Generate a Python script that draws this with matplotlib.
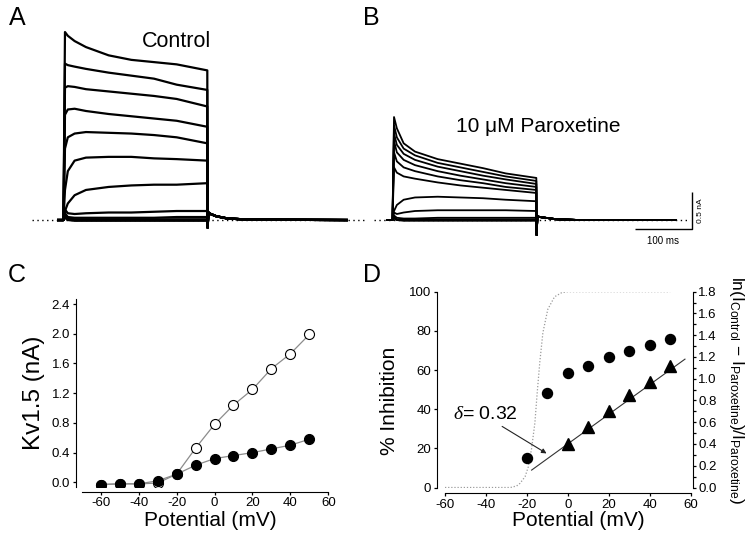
import matplotlib
matplotlib.use('Agg')
import matplotlib.pyplot as plt
from matplotlib.ticker import MultipleLocator, FormatStrFormatter

plt.rcParams['font.family'] = ['Liberation Sans', 'DejaVu Sans']
plt.rcParams['mathtext.fontset'] = 'custom'
plt.rcParams['mathtext.rm'] = 'Liberation Sans'
plt.rcParams['mathtext.it'] = 'Liberation Serif:italic'
plt.rcParams['mathtext.bf'] = 'Liberation Sans:bold'
plt.rcParams['axes.unicode_minus'] = False

# ---------------- data ----------------
voltages = [-60, -50, -40, -30, -20, -10, 0, 10, 20, 30, 40, 50]
control_iv = [-0.03, -0.02, -0.02, -0.01, 0.11, 0.46, 0.78, 1.04, 1.25, 1.53, 1.73, 1.99]
parox_iv = [-0.03, -0.02, -0.02, 0.02, 0.11, 0.23, 0.32, 0.36, 0.40, 0.45, 0.50, 0.58]

inh_v = [-20, -10, 0, 10, 20, 30, 40, 50]
inh_pct = [15.1, 48.4, 58.5, 62.3, 66.4, 69.8, 72.6, 75.8]
ln_v = [0, 10, 20, 30, 40, 50]
ln_ratio = [0.40, 0.56, 0.70, 0.85, 0.97, 1.12]
fit_v = [-17.7, 57.2]
fit_ln = [0.16, 1.18]
curve_v = [-60, -28, -25, -23.4, -20.9, -19.3, -17.7, -16.1, -15.0, -13.7, -12.2, -9.8, -6.5, -3, 0, 50]
curve_pct = [0, 0, 0.8, 2.1, 5.5, 10.6, 20, 33, 48, 64, 79, 91, 97.4, 99.5, 100, 100]

# current traces (nA) sampled at step_t (ms), rows follow `voltages`
pre_t = [-9, 0]
step_t = [0.3, 3, 8, 20, 40, 80, 120, 160, 200, 254]
tail_t = [254.5, 256, 260, 270, 290, 330, 500]
control_traces = [
    [0, 0.03, 0.00, -0.01, -0.01, -0.01, -0.01, -0.01, -0.01, -0.01],
    [0, 0.04, 0.01, 0.00, 0.00, 0.00, 0.00, 0.00, 0.00, 0.00],
    [0, 0.06, 0.02, 0.01, 0.01, 0.01, 0.01, 0.01, 0.01, 0.01],
    [0, 0.09, 0.04, 0.03, 0.03, 0.03, 0.03, 0.03, 0.04, 0.04],
    [0, 0.14, 0.09, 0.08, 0.09, 0.10, 0.10, 0.11, 0.12, 0.12],
    [0, 0.12, 0.22, 0.33, 0.40, 0.44, 0.46, 0.47, 0.47, 0.49],
    [0, 0.40, 0.65, 0.79, 0.83, 0.84, 0.84, 0.82, 0.81, 0.79],
    [0, 0.95, 1.10, 1.15, 1.17, 1.16, 1.15, 1.13, 1.10, 1.02],
    [0, 1.40, 1.47, 1.48, 1.45, 1.41, 1.38, 1.35, 1.32, 1.24],
    [0, 1.76, 1.78, 1.77, 1.74, 1.71, 1.68, 1.65, 1.61, 1.51],
    [0, 2.08, 2.06, 2.04, 2.01, 1.96, 1.92, 1.88, 1.80, 1.73],
    [0, 2.50, 2.45, 2.38, 2.30, 2.19, 2.13, 2.10, 2.07, 1.99],
]
parox_traces = [
    [0, 0.02, 0.00, -0.01, -0.01, -0.01, -0.01, -0.01, -0.01, -0.01],
    [0, 0.03, 0.00, 0.00, 0.00, 0.00, 0.00, 0.00, 0.00, 0.00],
    [0, 0.04, 0.01, 0.01, 0.01, 0.01, 0.01, 0.01, 0.01, 0.01],
    [0, 0.06, 0.03, 0.02, 0.02, 0.03, 0.03, 0.03, 0.03, 0.03],
    [0, 0.10, 0.08, 0.10, 0.12, 0.13, 0.13, 0.13, 0.13, 0.12],
    [0, 0.12, 0.20, 0.27, 0.30, 0.31, 0.30, 0.29, 0.27, 0.25],
    [0, 0.70, 0.63, 0.58, 0.55, 0.50, 0.46, 0.43, 0.40, 0.36],
    [0, 0.90, 0.78, 0.70, 0.65, 0.58, 0.53, 0.49, 0.44, 0.40],
    [0, 1.05, 0.90, 0.80, 0.73, 0.65, 0.59, 0.54, 0.49, 0.44],
    [0, 1.15, 1.00, 0.88, 0.80, 0.71, 0.65, 0.59, 0.54, 0.48],
    [0, 1.26, 1.10, 0.95, 0.86, 0.76, 0.70, 0.64, 0.58, 0.52],
    [0, 1.37, 1.22, 1.02, 0.91, 0.81, 0.75, 0.69, 0.62, 0.56],
]
control_tail = [-0.10, 0.10, 0.08, 0.05, 0.02, 0.005, 0.0]
parox_tail = [-0.20, 0.05, 0.04, 0.03, 0.01, 0.0, 0.0]
scale_ms = 100
scale_na = 0.5

# ---------------- layout helpers ----------------
W, H = 748, 533
fig = plt.figure(figsize=(W / 100, H / 100), dpi=100)


def box(x0, y0, x1, y1):
    return [x0 / W, 1 - y1 / H, (x1 - x0) / W, (y1 - y0) / H]


def fp(x, y):
    return (x / W, 1 - y / H)


# ---------------- panels A and B (traces) ----------------
def draw_traces(ax, traces, tail, lw):
    for tr in traces:
        t = pre_t + step_t + tail_t
        v = [0, 0] + tr + tail
        ax.plot(t, v, color='black', lw=lw, solid_joinstyle='round', zorder=3)


axA = fig.add_axes(box(0, 0, 374, 255))
axA.set_xlim(-111.6, 548)
axA.set_ylim(-0.465, 2.926)
axA.axis('off')
axA.plot([-55.7, 535], [0, 0], color='black', lw=1.0, ls=(0, (1, 2.5)), zorder=1)
draw_traces(axA, control_traces, control_tail, 1.6)
axA.text(176.7 / 374, 1 - 46.7 / 255, 'Control', transform=axA.transAxes,
         ha='center', va='baseline', fontsize=15.5)

axB = fig.add_axes(box(374, 0, 748, 255))
axB.set_xlim(-32.3, 627.3)
axB.set_ylim(-0.465, 2.926)
axB.axis('off')
axB.plot([-32, 525], [0, 0], color='black', lw=1.0, ls=(0, (1, 2.5)), zorder=1)
draw_traces(axB, parox_traces, parox_tail, 1.3)
axB.text((538 - 374) / 374, 1 - 131.5 / 255, '10 \u03bcM Paroxetine', transform=axB.transAxes,
         ha='center', va='baseline', fontsize=15)
# scale bar
sb_x1 = 528
sb_y0 = -0.125
axB.plot([sb_x1 - scale_ms, sb_x1, sb_x1], [sb_y0, sb_y0, sb_y0 + scale_na],
         color='black', lw=1.0, solid_capstyle='butt', clip_on=False)
axB.text(sb_x1 + 10, sb_y0 + scale_na / 2, '0.5 nA', rotation=90, ha='left', va='center', fontsize=6)
axB.text(sb_x1 - scale_ms / 2, sb_y0 - 0.09, '100 ms', ha='center', va='top', fontsize=7)

# ---------------- panel C ----------------
axC = fig.add_axes(box(81.8, 298.8, 328.3, 486.8))
axC.set_xlim(-70, 60)
axC.set_ylim(-0.06, 2.47)
axC.plot(voltages, control_iv, color='#8c8c8c', lw=0.9, marker='o', ms=7.2,
         mfc='white', mec='black', mew=0.8, zorder=3)
axC.plot(voltages, parox_iv, color='#8c8c8c', lw=0.9, marker='o', ms=7.2,
         mfc='black', mec='black', mew=0.8, zorder=4)
axC.spines['top'].set_visible(False)
axC.spines['right'].set_visible(False)
axC.spines['left'].set_position(('outward', 4.4))
axC.spines['bottom'].set_position(('outward', 3.5))
axC.xaxis.set_major_locator(MultipleLocator(20))
axC.yaxis.set_major_locator(MultipleLocator(0.4))
axC.yaxis.set_major_formatter(FormatStrFormatter('%.1f'))
axC.tick_params(direction='out', length=2.5, width=0.9, labelsize=9.5, pad=1.5)
axC.set_xlabel('Potential (mV)', fontsize=15)
axC.xaxis.set_label_coords((210 - 81.8) / (328.3 - 81.8), -(520.5 - 486.8) / 188.0)
axC.xaxis.label.set_va('center')
axC.set_ylabel('Kv1.5 (nA)', fontsize=17.5)
axC.yaxis.set_label_coords(-(81.8 - 34) / (328.3 - 81.8), (486.8 - 392.5) / 188.0)
axC.yaxis.label.set_va('center')

# ---------------- panel D ----------------
axD = fig.add_axes(box(445, 291.7, 690.7, 487.5))
axD.set_xlim(-60, 60)
axD.set_ylim(0, 100)
axD.plot(curve_v, curve_pct, color='#9a9a9a', lw=0.9, ls=(0, (1, 1.5)), zorder=1)
axD.plot(inh_v, inh_pct, ls='none', marker='o', ms=7.2, color='black', zorder=4)
axD.spines['top'].set_visible(False)
axD.spines['right'].set_visible(False)
axD.spines['left'].set_position(('outward', 6))
axD.spines['bottom'].set_position(('outward', 4.2))
axD.xaxis.set_major_locator(MultipleLocator(20))
axD.yaxis.set_major_locator(MultipleLocator(20))
axD.tick_params(direction='out', length=2.5, width=0.9, labelsize=9.5, pad=1.5)
axD.set_xlabel('Potential (mV)', fontsize=15)
axD.xaxis.set_label_coords((578 - 445) / 245.7, -(520.5 - 487.5) / 195.8)
axD.xaxis.label.set_va('center')
axD.set_ylabel('% Inhibition', fontsize=15)
axD.yaxis.set_label_coords(-(445 - 389) / 245.7, (487.5 - 401) / 195.8)
axD.yaxis.label.set_va('center')
axD.annotate('', xy=(-10.4, 17.4), xytext=(-32.1, 31.2),
             arrowprops=dict(arrowstyle='-|>', color='#222222', lw=0.8,
                             mutation_scale=7, shrinkA=0, shrinkB=0))
axD.text(-56.2, 35, r'$\delta$= 0.32', ha='left', va='baseline', fontsize=14)

axR = axD.twinx()
axR.set_ylim(0, 1.8)
axR.plot(fit_v, fit_ln, color='#333333', lw=0.8, zorder=2)
axR.plot(ln_v, ln_ratio, ls='none', marker='^', ms=9, color='black', zorder=4)
for s in ['top', 'left', 'bottom']:
    axR.spines[s].set_visible(False)
axR.spines['right'].set_position(('outward', 1.5))
axR.yaxis.set_major_locator(MultipleLocator(0.2))
axR.yaxis.set_minor_locator(MultipleLocator(0.1))
axR.yaxis.set_major_formatter(FormatStrFormatter('%.1f'))
axR.tick_params(axis='y', which='both', direction='out', length=2.5, width=0.9,
                labelsize=9.5, pad=1.5)
axR.set_ylabel(r'ln(I$_{\mathrm{Control}}$ $-$ I$_{\mathrm{Paroxetine}}$)/I$_{\mathrm{Paroxetine}}$)',
               fontsize=12.5, rotation=-90)
axR.yaxis.set_label_coords((736.5 - 445) / 245.7, (487.5 - 390) / 195.8)
axR.yaxis.label.set_va('center')
axR.yaxis.label.set_ha('center')

# ---------------- panel letters ----------------
for letter, (x, y) in zip('ABCD', [(17, 25), (371.5, 25), (17, 282), (372, 282)]):
    fig.text(*fp(x, y), letter, ha='center', va='baseline', fontsize=18)

fig.savefig('out.png', dpi=100)
